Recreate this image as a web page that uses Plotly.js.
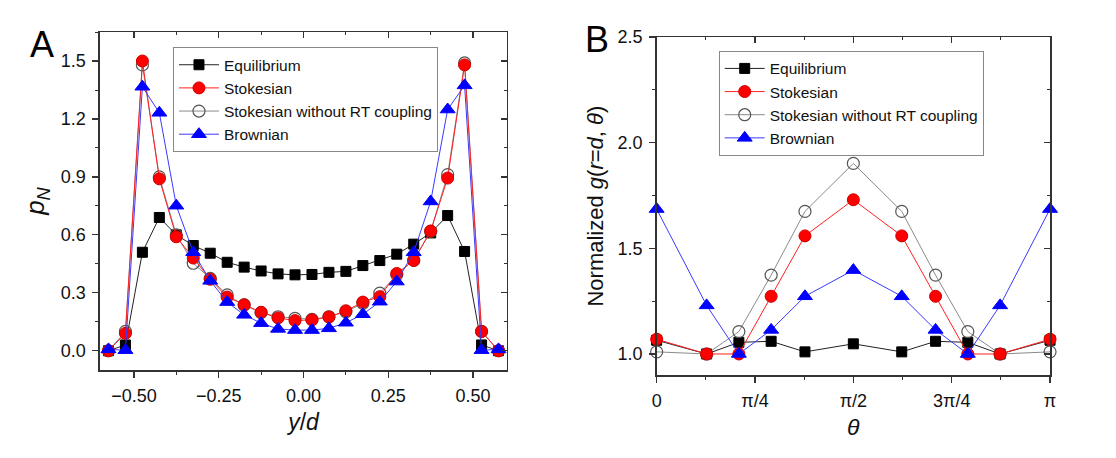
<!DOCTYPE html>
<html>
<head>
<meta charset="utf-8">
<script src="https://cdn.plot.ly/plotly-3.0.1.min.js"></script>
<style>
    html, body { margin: 0; padding: 0; background: #fff; }
    #chart { width: 1116px; height: 458px; }
</style>
</head>
<body>
<div id="chart"></div>
<script>
// ---------------------------------------------------------------------------
// Panel A: number density across the channel
// ---------------------------------------------------------------------------
const yOverD = [-0.575, -0.525, -0.475, -0.425, -0.375, -0.325, -0.275, -0.225,
                -0.175, -0.125, -0.075, -0.025, 0.025, 0.075, 0.125, 0.175,
                0.225, 0.275, 0.325, 0.375, 0.425, 0.475, 0.525, 0.575];
const eqA   = [0, 0.03, 0.51, 0.69, 0.60, 0.545, 0.505, 0.458, 0.433, 0.413, 0.398, 0.393,
               0.395, 0.406, 0.411, 0.441, 0.467, 0.50, 0.552, 0.61, 0.70, 0.514, 0.03, 0];
const stA   = [0, 0.09, 1.50, 0.89, 0.59, 0.48, 0.37, 0.278, 0.238, 0.199, 0.17, 0.156,
               0.16, 0.175, 0.207, 0.252, 0.28, 0.40, 0.467, 0.62, 0.894, 1.48, 0.10, 0];
const noRtA = [0, 0.10, 1.48, 0.90, 0.60, 0.453, 0.375, 0.289, 0.237, 0.197, 0.176, 0.168,
               0.162, 0.176, 0.202, 0.246, 0.298, 0.393, 0.47, 0.618, 0.912, 1.49, 0.10, 0];
const brA   = [0.007, 0.003, 1.367, 1.232, 0.751, 0.51, 0.362, 0.252, 0.186, 0.143, 0.113, 0.107,
               0.107, 0.116, 0.145, 0.189, 0.254, 0.358, 0.51, 0.773, 1.249, 1.374, 0.003, 0.007];

// ---------------------------------------------------------------------------
// Panel B: normalized contact value of g(r=d, theta), theta in units of pi
// ---------------------------------------------------------------------------
const thetaOverPi = [0, 0.127, 0.209, 0.291, 0.377, 0.5, 0.623, 0.709, 0.791, 0.873, 1];
const eqB   = [1.065, 1.0, 1.055, 1.06, 1.01, 1.048, 1.01, 1.06, 1.055, 1.0, 1.065];
const stB   = [1.07, 1.0, 1.0, 1.273, 1.559, 1.73, 1.559, 1.273, 1.0, 1.0, 1.07];
const noRtB = [1.01, 1.0, 1.106, 1.373, 1.675, 1.902, 1.675, 1.373, 1.106, 1.0, 1.01];
const brB   = [1.686, 1.23, 1.0, 1.114, 1.273, 1.397, 1.273, 1.114, 1.0, 1.23, 1.686];

const thetaTicks = [0, 0.25, 0.5, 0.75, 1];
const thetaLabels = ['0', '\u03c0/4', '\u03c0/2', '3\u03c0/4', '\u03c0'];

const seriesNames = ['Equilibrium', 'Stokesian', 'Stokesian without RT coupling', 'Brownian'];

const FONT = 'Liberation Sans, Arial, sans-serif';
const AXIS_COLOR = '#333333';

// style per series, in legend order
const STYLES = [
    { line: '#222222', marker: { symbol: 'square', size: 10, color: '#000000', line: { color: '#000000', width: 1 } } },
    { line: '#ff2020', marker: { symbol: 'circle', size: 12, color: '#ff0000', line: { color: '#d00000', width: 1 } } },
    { line: '#8a8a8a', marker: { symbol: 'circle-open', size: 12, color: '#555555', line: { color: '#555555', width: 1.2 } } },
    { line: '#3a3aff', marker: { symbol: 'triangle-up', size: 13, color: '#0000ff', line: { color: '#0000ff', width: 1 } } }
];
// draw order: open circles under the red ones
const DRAW_ORDER = [0, 2, 1, 3];

function makeTraces(x, ys, xa, ya, legendId) {
    return DRAW_ORDER.map(i => ({
        type: 'scatter',
        mode: 'lines+markers',
        x: x,
        y: ys[i],
        xaxis: xa,
        yaxis: ya,
        name: seriesNames[i],
        legend: legendId,
        legendrank: i + 1,
        cliponaxis: false,
        line: { color: STYLES[i].line, width: 1 },
        marker: STYLES[i].marker,
        hoverinfo: 'skip'
    }));
}

// empty trace so that the top/right frame axes get drawn
function frameTrace(xa, ya) {
    return { type: 'scatter', mode: 'markers', x: [null], y: [null], xaxis: xa, yaxis: ya,
             showlegend: false, hoverinfo: 'skip' };
}

const traces = [
    ...makeTraces(yOverD, [eqA, stA, noRtA, brA], 'x', 'y', 'legend'),
    ...makeTraces(thetaOverPi, [eqB, stB, noRtB, brB], 'x2', 'y2', 'legend2'),
    frameTrace('x3', 'y3'),
    frameTrace('x4', 'y4')
];

// bottom / left axes: labels, ticks pointing out
const axisBase = {
    showline: true,
    linecolor: AXIS_COLOR,
    linewidth: 1.5,
    mirror: false,
    ticks: 'outside',
    ticklen: 6,
    tickwidth: 1.2,
    tickcolor: AXIS_COLOR,
    showgrid: false,
    zeroline: false,
    ticklabelstandoff: 3,
    tickfont: { family: FONT, size: 18, color: '#111' },
    minor: { ticks: 'outside', ticklen: 3, tickwidth: 1, tickcolor: AXIS_COLOR, showgrid: false }
};

// top / right frame axes: no labels, ticks pointing in
function frameAxis(src, overlay, anchor, side) {
    return {
        showline: true,
        linecolor: AXIS_COLOR,
        linewidth: 1.5,
        ticks: 'inside',
        ticklen: 6,
        tickwidth: 1.2,
        tickcolor: AXIS_COLOR,
        showgrid: false,
        zeroline: false,
        showticklabels: false,
        overlaying: overlay,
        anchor: anchor,
        side: side,
        range: src.range,
        tick0: src.tick0,
        dtick: src.dtick,
        tickvals: src.tickvals,
        minor: { ticks: 'inside', ticklen: 3, tickwidth: 1, tickcolor: AXIS_COLOR, dtick: src.minor.dtick, showgrid: false }
    };
}

const legendBase = {
    bgcolor: '#ffffff',
    bordercolor: '#888888',
    borderwidth: 1,
    font: { family: FONT, size: 15.5, color: '#111' },
    xanchor: 'left',
    yanchor: 'top',
    traceorder: 'normal',
    itemwidth: 40,
    tracegroupgap: 0
};

const xA = {
    ...axisBase,
    domain: [0.0896, 0.4543],
    anchor: 'y',
    range: [-0.6, 0.6],
    tick0: 0,
    dtick: 0.25,
    tickformat: '.2f',
    minor: { ...axisBase.minor, dtick: 0.125 },
    title: { text: '<i>y</i>/<i>d</i>', font: { family: FONT, size: 23 }, standoff: 8 }
};
const yA = {
    ...axisBase,
    domain: [0.192, 0.930],
    anchor: 'x',
    range: [-0.1, 1.65],
    tick0: 0,
    dtick: 0.3,
    tickformat: '.1f',
    minor: { ...axisBase.minor, dtick: 0.15 },
    title: { text: '<i>p</i><sub><i>N</i></sub>', font: { family: FONT, size: 26 }, standoff: 8 }
};
const xB = {
    ...axisBase,
    domain: [0.5884, 0.9409],
    anchor: 'y2',
    range: [0, 1],
    tickvals: thetaTicks,
    ticktext: thetaLabels,
    minor: { ...axisBase.minor, dtick: 0.125 },
    title: { text: '<i>\u03b8</i>', font: { family: FONT, size: 23 }, standoff: 8 }
};
const yB = {
    ...axisBase,
    domain: [0.181, 0.919],
    anchor: 'x2',
    range: [0.9, 2.5],
    tick0: 0,
    dtick: 0.5,
    tickformat: '.1f',
    minor: { ...axisBase.minor, dtick: 0.25 },
    title: { text: 'Normalized <i>g</i>(<i>r</i>=<i>d</i>, <i>\u03b8</i>)', font: { family: FONT, size: 22 }, standoff: 8 }
};

const layout = {
    width: 1116,
    height: 458,
    paper_bgcolor: '#ffffff',
    plot_bgcolor: '#ffffff',
    margin: { l: 0, r: 0, t: 0, b: 0 },
    font: { family: FONT, color: '#111' },
    showlegend: true,
    xaxis: xA,
    yaxis: yA,
    xaxis2: xB,
    yaxis2: yB,
    xaxis3: frameAxis(xA, 'x', 'y3', 'top'),
    yaxis3: frameAxis(yA, 'y', 'x3', 'right'),
    xaxis4: frameAxis(xB, 'x2', 'y4', 'top'),
    yaxis4: frameAxis(yB, 'y2', 'x4', 'right'),
    legend: { ...legendBase, x: 0.155, y: 0.897 },
    legend2: { ...legendBase, x: 0.644, y: 0.889 },
    annotations: [
        { text: 'A', xref: 'paper', yref: 'paper', x: 0.038, y: 0.902, xanchor: 'center', yanchor: 'middle',
          showarrow: false, font: { family: FONT, size: 36, color: '#000' } },
        { text: 'B', xref: 'paper', yref: 'paper', x: 0.535, y: 0.913, xanchor: 'center', yanchor: 'middle',
          showarrow: false, font: { family: FONT, size: 36, color: '#000' } }
    ]
};

Plotly.newPlot('chart', traces, layout, { displayModeBar: false, staticPlot: true });
</script>
</body>
</html>
